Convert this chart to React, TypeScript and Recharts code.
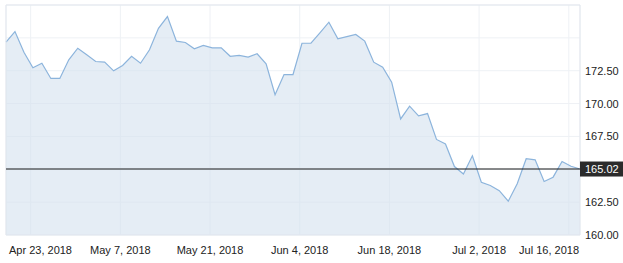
import React from 'react';
import { AreaChart, Area, XAxis, YAxis, CartesianGrid, ReferenceLine, ReferenceArea } from 'recharts';

// closing prices, evenly spaced points, Apr 18 -> Jul 17 2018
const prices = [
  174.67, 175.48, 173.91, 172.72, 173.07, 171.91, 171.91, 173.33, 174.21, 173.71,
  173.2, 173.15, 172.49, 172.9, 173.6, 173.07, 174.09, 175.73, 176.62, 174.75,
  174.65, 174.17, 174.42, 174.24, 174.24, 173.6, 173.66, 173.53, 173.79, 173.03,
  170.67, 172.21, 172.21, 174.59, 174.59, 175.38, 176.19, 174.93, 175.1, 175.26,
  174.75, 173.15, 172.77, 171.63, 168.83, 169.8, 169.07, 169.24, 167.27, 166.92,
  165.21, 164.64, 166.03, 164.01, 163.77, 163.37, 162.57, 163.9, 165.8, 165.72,
  164.07, 164.4, 165.59, 165.23, 165.02,
];
const tickLabels = ['Apr 23, 2018', 'May 7, 2018', 'May 21, 2018', 'Jun 4, 2018', 'Jun 18, 2018', 'Jul 2, 2018', 'Jul 16, 2018'];
const tickIndex = [2.75, 12.75, 22.75, 32.75, 42.75, 52.75, 62.75];
const priceTicks = [160, 162.5, 165, 167.5, 170, 172.5, 175, 177.5];
const shownMax = 172.5;

const W = 623;
const H = 263;
const MARGIN = { top: 5, right: 0, left: 6, bottom: 0 };
const Y_W = 43;
const X_H = 28;
const Y_GAP = 5;
const PLOT_RIGHT = W - MARGIN.right - Y_W;
const FONT = '"Liberation Sans", Arial, sans-serif';

const rows = prices.map((price, i) => ({ i, price }));
const last = prices[prices.length - 1];
const yTicks = [...priceTicks, last].sort((a, b) => a - b);

const XTick = (p: any) => {
  const label = tickLabels[p.index] ?? '';
  const w = label.length * 5.2;
  let x = p.x;
  let anchor: 'start' | 'middle' | 'end' = 'middle';
  if (x - w / 2 < MARGIN.left + 3) { x = MARGIN.left + 3; anchor = 'start'; }
  else if (x + w / 2 > PLOT_RIGHT) { x = PLOT_RIGHT - 1; anchor = 'end'; }
  return (
    <text x={x} y={p.y + 19} textAnchor={anchor} fontSize={11} fill="#222" fontFamily={FONT}>{label}</text>
  );
};

// price labels on the right, plus the dark tag for the last price
const YTick = (p: any) => {
  const v = p.payload.value;
  if (v === last) {
    const x = p.x - Y_GAP;
    return (
      <g>
        <rect x={x} y={p.y - 7.5} width={W - x} height={15} fill="#2b2b2b" />
        <text x={p.x} y={p.y + 4} fill="#fff" fontSize={11} fontFamily={FONT}>{v.toFixed(2)}</text>
      </g>
    );
  }
  if (v > shownMax || Math.abs(v - last) < 1) return <g />;
  return (
    <text x={p.x} y={p.y + 4} textAnchor="start" fontSize={11} fill="#222" fontFamily={FONT}>{v.toFixed(2)}</text>
  );
};

export default function App() {
  return (
    <div style={{ position: 'absolute', left: 0, top: 0, width: W, height: H, background: '#fff' }}>
      <AreaChart width={W} height={H} data={rows} margin={MARGIN}>
        <CartesianGrid stroke="#eef1f5" />
        <XAxis
          dataKey="i"
          type="number"
          domain={[0, prices.length - 1]}
          ticks={tickIndex}
          interval={0}
          height={X_H}
          axisLine={false}
          tickLine={false}
          tickSize={0}
          tickMargin={0}
          tick={XTick}
        />
        <YAxis
          orientation="right"
          width={Y_W}
          domain={[160, 177.5]}
          ticks={yTicks}
          interval={0}
          axisLine={false}
          tickLine={false}
          tickSize={0}
          tickMargin={Y_GAP}
          tick={YTick}
        />
        <Area
          type="linear"
          dataKey="price"
          stroke="#8cb4dc"
          strokeWidth={1.2}
          fill="#d3e1ef"
          fillOpacity={0.6}
          dot={false}
          activeDot={false}
          isAnimationActive={false}
        />
        <ReferenceArea x1={0} x2={prices.length - 1} y1={160} y2={177.5} fill="none" stroke="#e2e7ee" />
        <ReferenceLine y={last} stroke="#1c1c1c" strokeWidth={1.2} />
      </AreaChart>
    </div>
  );
}
